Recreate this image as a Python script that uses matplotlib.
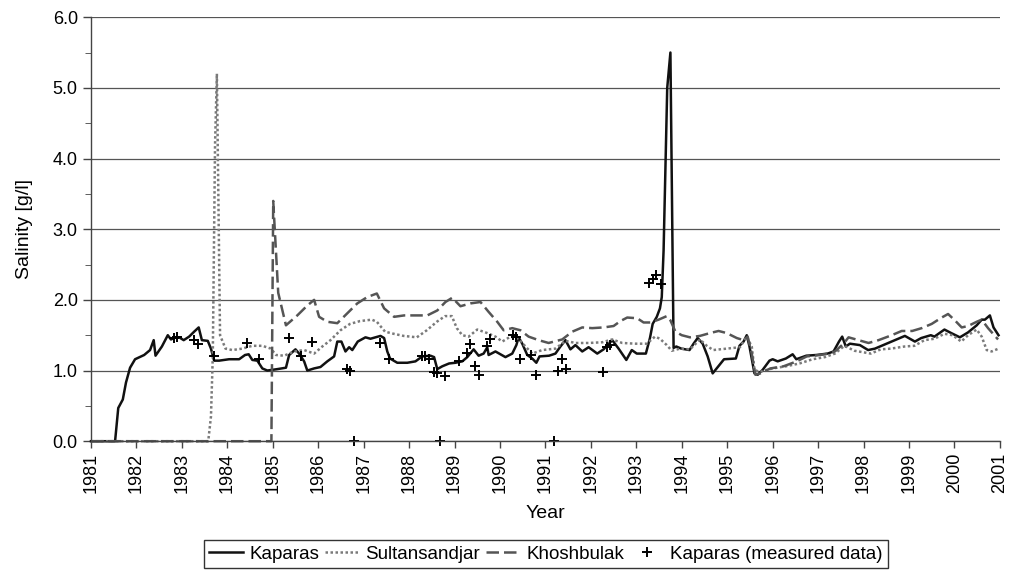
import numpy as np
import matplotlib.pyplot as plt
from matplotlib.ticker import MultipleLocator

plt.rcParams['font.family'] = ['Liberation Sans', 'DejaVu Sans']

# Kaparas (simulated)
kap_t = [1981.0, 1981.53, 1981.6, 1981.7, 1981.77, 1981.86, 1981.97, 1982.17, 1982.3, 1982.38,
         1982.42, 1982.56, 1982.69, 1982.76, 1982.86, 1982.94, 1983.04, 1983.16, 1983.27, 1983.37,
         1983.44, 1983.57, 1983.64, 1983.71, 1983.82, 1984.04, 1984.26, 1984.39, 1984.47, 1984.55,
         1984.66, 1984.77, 1984.88, 1985.1, 1985.29, 1985.36, 1985.5, 1985.58, 1985.65, 1985.69,
         1985.76, 1985.91, 1986.05, 1986.2, 1986.35, 1986.42, 1986.51, 1986.6, 1986.68, 1986.75,
         1986.87, 1987.04, 1987.15, 1987.26, 1987.37, 1987.45, 1987.52, 1987.58, 1987.74, 1987.96,
         1988.14, 1988.29, 1988.47, 1988.55, 1988.62, 1988.73, 1988.88, 1989.02, 1989.17, 1989.28,
         1989.42, 1989.53, 1989.64, 1989.72, 1989.75, 1989.9, 1990.12, 1990.27, 1990.36, 1990.41,
         1990.49, 1990.6, 1990.71, 1990.8, 1990.87, 1991.08, 1991.22, 1991.33, 1991.44, 1991.55,
         1991.66, 1991.81, 1991.95, 1992.14, 1992.28, 1992.47, 1992.61, 1992.78, 1992.9, 1993.01,
         1993.21, 1993.3, 1993.36, 1993.45, 1993.52, 1993.56, 1993.6, 1993.68, 1993.75, 1993.82,
         1993.88, 1993.99, 1994.17, 1994.26, 1994.35, 1994.46, 1994.57, 1994.68, 1994.83, 1994.93,
         1995.19, 1995.27, 1995.36, 1995.43, 1995.49, 1995.6, 1995.67, 1995.78, 1995.93, 1996.0,
         1996.11, 1996.29, 1996.44, 1996.52, 1996.74, 1996.96, 1997.21, 1997.34, 1997.46, 1997.53,
         1997.61, 1997.7, 1997.92, 1998.1, 1998.25, 1998.47, 1998.69, 1998.91, 1999.13, 1999.27,
         1999.48, 1999.56, 1999.78, 1999.93, 2000.12, 2000.3, 2000.49, 2000.6, 2000.67, 2000.78,
         2000.86, 2000.97]
kap_v = [0, 0, 0.47, 0.59, 0.83, 1.04, 1.16, 1.22, 1.29, 1.43,
         1.21, 1.34, 1.50, 1.44, 1.47, 1.47, 1.43, 1.48, 1.55, 1.61,
         1.43, 1.42, 1.31, 1.14, 1.14, 1.16, 1.16, 1.22, 1.23, 1.15,
         1.14, 1.03, 1.0, 1.02, 1.04, 1.22, 1.30, 1.24, 1.17, 1.13,
         1.0, 1.03, 1.05, 1.13, 1.2, 1.41, 1.41, 1.27, 1.33, 1.29,
         1.41, 1.47, 1.45, 1.47, 1.49, 1.46, 1.27, 1.17, 1.11, 1.11,
         1.13, 1.2, 1.21, 1.19, 1.02, 1.06, 1.1, 1.11, 1.13, 1.19,
         1.30, 1.21, 1.24, 1.33, 1.22, 1.27, 1.19, 1.24, 1.36, 1.47,
         1.38, 1.22, 1.17, 1.11, 1.2, 1.21, 1.24, 1.34, 1.43, 1.30,
         1.36, 1.27, 1.33, 1.24, 1.30, 1.43, 1.31, 1.15, 1.29, 1.24,
         1.24, 1.46, 1.66, 1.76, 1.88, 2.04, 2.7, 5.0, 5.5, 1.32,
         1.34, 1.31, 1.29, 1.38, 1.46, 1.38, 1.2, 0.96, 1.08, 1.16,
         1.17, 1.35, 1.41, 1.5, 1.34, 0.96, 0.94, 1.01, 1.14, 1.16,
         1.13, 1.17, 1.23, 1.16, 1.21, 1.22, 1.24, 1.27, 1.41, 1.48,
         1.34, 1.38, 1.36, 1.29, 1.31, 1.37, 1.43, 1.49, 1.41, 1.46,
         1.50, 1.48, 1.58, 1.53, 1.47, 1.54, 1.64, 1.72, 1.72, 1.78,
         1.61, 1.50]

# Sultansandjar
sul_t = [1981.0, 1983.58, 1983.64, 1983.68, 1983.73, 1983.77, 1983.84, 1983.96, 1984.11, 1984.33,
         1984.55, 1984.77, 1984.96, 1985.07, 1985.25, 1985.47, 1985.69, 1985.91, 1986.09, 1986.27,
         1986.49, 1986.7, 1986.92, 1987.18, 1987.29, 1987.47, 1987.66, 1987.88, 1988.17, 1988.39,
         1988.61, 1988.79, 1988.94, 1989.05, 1989.17, 1989.31, 1989.5, 1989.72, 1989.9, 1990.05,
         1990.23, 1990.41, 1990.56, 1990.71, 1990.93, 1991.22, 1991.44, 1991.66, 1991.95, 1992.25,
         1992.47, 1992.69, 1992.98, 1993.23, 1993.41, 1993.52, 1993.67, 1993.78, 1993.96, 1994.18,
         1994.4, 1994.55, 1994.69, 1994.99, 1995.28, 1995.43, 1995.54, 1995.6, 1995.71, 1996.0,
         1996.29, 1996.59, 1996.88, 1997.15, 1997.37, 1997.58, 1997.8, 1998.16, 1998.38, 1998.6,
         1998.9, 1999.12, 1999.34, 1999.56, 1999.78, 1999.96, 2000.15, 2000.3, 2000.49, 2000.6,
         2000.71, 2000.82, 2000.97]
sul_v = [0, 0, 0.35, 1.2, 4.2, 5.2, 1.5, 1.31, 1.29, 1.31,
         1.35, 1.35, 1.31, 1.22, 1.21, 1.27, 1.29, 1.24, 1.34, 1.43,
         1.57, 1.66, 1.70, 1.72, 1.69, 1.55, 1.52, 1.49, 1.47, 1.57,
         1.69, 1.77, 1.77, 1.6, 1.5, 1.48, 1.58, 1.53, 1.48, 1.41,
         1.48, 1.45, 1.34, 1.24, 1.29, 1.31, 1.42, 1.39, 1.39, 1.40,
         1.44, 1.39, 1.38, 1.38, 1.48, 1.45, 1.36, 1.28, 1.31, 1.30,
         1.44, 1.35, 1.29, 1.31, 1.33, 1.48, 1.34, 1.01, 0.98, 1.03,
         1.06, 1.10, 1.16, 1.19, 1.24, 1.35, 1.28, 1.24, 1.30, 1.31,
         1.34, 1.35, 1.43, 1.45, 1.52, 1.50, 1.41, 1.50, 1.58, 1.48,
         1.29, 1.27, 1.31]

# Khoshbulak
kho_t = [1981.0, 1984.97, 1985.01, 1985.12, 1985.29, 1985.54, 1985.76, 1985.91, 1986.02, 1986.2,
         1986.42, 1986.64, 1986.86, 1987.08, 1987.29, 1987.45, 1987.67, 1987.89, 1988.18, 1988.4,
         1988.62, 1988.8, 1988.95, 1989.13, 1989.35, 1989.57, 1989.75, 1989.94, 1990.08, 1990.27,
         1990.45, 1990.63, 1990.85, 1991.07, 1991.37, 1991.59, 1991.81, 1992.03, 1992.28, 1992.5,
         1992.65, 1992.8, 1993.02, 1993.16, 1993.31, 1993.49, 1993.67, 1993.75, 1993.86, 1994.0,
         1994.18, 1994.4, 1994.62, 1994.81, 1994.99, 1995.21, 1995.36, 1995.45, 1995.54, 1995.62,
         1995.73, 1995.95, 1996.24, 1996.53, 1996.75, 1997.04, 1997.23, 1997.37, 1997.56, 1997.67,
         1997.89, 1998.11, 1998.33, 1998.62, 1998.84, 1999.07, 1999.28, 1999.5, 1999.72, 1999.86,
         2000.01, 2000.16, 2000.3, 2000.49, 2000.6, 2000.74, 2000.96]
kho_v = [0, 0, 3.4, 2.1, 1.64, 1.78, 1.92, 2.0, 1.76, 1.69,
         1.67, 1.81, 1.95, 2.04, 2.09, 1.88, 1.76, 1.78, 1.78, 1.78,
         1.85, 1.97, 2.03, 1.91, 1.95, 1.97, 1.83, 1.69, 1.57, 1.60,
         1.57, 1.48, 1.43, 1.39, 1.44, 1.55, 1.61, 1.60, 1.61, 1.63,
         1.70, 1.75, 1.74, 1.68, 1.68, 1.72, 1.77, 1.71, 1.55, 1.50,
         1.47, 1.49, 1.53, 1.56, 1.53, 1.46, 1.43, 1.48, 1.24, 0.94,
         0.96, 1.03, 1.06, 1.13, 1.20, 1.22, 1.24, 1.27, 1.38, 1.47,
         1.43, 1.39, 1.43, 1.50, 1.56, 1.56, 1.60, 1.66, 1.75, 1.80,
         1.71, 1.61, 1.63, 1.69, 1.72, 1.60, 1.44]

# Kaparas measured
meas_t = [1982.82, 1982.89, 1983.27, 1983.36, 1983.70, 1984.44, 1984.70, 1985.36, 1985.62, 1985.86,
          1986.64, 1986.71, 1986.79, 1987.37, 1987.56, 1988.29, 1988.36, 1988.44, 1988.55, 1988.62,
          1988.69, 1988.78, 1989.10, 1989.28, 1989.35, 1989.45, 1989.53, 1989.72, 1989.78, 1990.28,
          1990.36, 1990.43, 1990.68, 1990.79, 1991.18, 1991.28, 1991.37, 1991.45, 1992.27, 1992.35,
          1992.41, 1993.27, 1993.37, 1993.44, 1993.54]
meas_v = [1.46, 1.48, 1.43, 1.38, 1.21, 1.39, 1.16, 1.46, 1.20, 1.41,
          1.02, 1.00, 0.0, 1.39, 1.16, 1.20, 1.21, 1.17, 0.98, 0.96,
          0.0, 0.92, 1.14, 1.25, 1.37, 1.06, 0.94, 1.35, 1.45, 1.50,
          1.48, 1.16, 1.22, 0.94, 0.0, 0.99, 1.16, 1.02, 0.98, 1.33,
          1.36, 2.24, 2.29, 2.35, 2.23]

years = list(range(1981, 2002))

fig = plt.figure(figsize=(10.11, 5.73), dpi=100)
ax = fig.add_axes([0.09, 0.23, 0.899, 0.74])

# gridlines
ax.grid(axis='y', color='#555555', linewidth=0.9)
ax.set_axisbelow(True)

ax.plot(kap_t, kap_v, color='#111111', lw=1.8, label='Kaparas', clip_on=False)
ax.plot(sul_t, sul_v, color='#7a7a7a', lw=1.8, linestyle=(0, (1, 1)),
        label='Sultansandjar', clip_on=False)
ax.plot(kho_t, kho_v, color='#555555', lw=1.8, linestyle=(0, (5, 2)),
        label='Khoshbulak', clip_on=False)
ax.plot(meas_t, meas_v, '+', color='black', markersize=7, markeredgewidth=1.4,
        label='Kaparas (measured data)', clip_on=False)

ax.set_xlim(1981, 2001)
ax.set_ylim(0, 6)
ax.set_xticks(years)
ax.set_xticklabels([str(y) for y in years], rotation=90)
ax.yaxis.set_major_locator(MultipleLocator(1))
ax.yaxis.set_minor_locator(MultipleLocator(0.5))
ax.set_yticklabels(['%.1f' % v for v in ax.get_yticks()])
ax.tick_params(axis='both', direction='out', labelsize=13, color='#444444', width=1)
ax.tick_params(axis='y', which='major', length=6)
ax.tick_params(axis='y', which='minor', length=4, color='#444444')
ax.tick_params(axis='x', length=5)

for side in ['top', 'right']:
    ax.spines[side].set_visible(False)
for side in ['left', 'bottom']:
    ax.spines[side].set_color('#444444')
    ax.spines[side].set_linewidth(1)

ax.set_xlabel('Year', fontsize=14, labelpad=8)
ax.set_ylabel('Salinity [g/l]', fontsize=14, labelpad=14)

leg = fig.legend(loc='lower center', bbox_to_anchor=(0.54, 0.008), ncol=4, fontsize=13.5,
                 frameon=True, fancybox=False, edgecolor='black', handlelength=1.8,
                 columnspacing=0.3, handletextpad=0.35, borderpad=0.3, borderaxespad=0)
leg.get_frame().set_linewidth(1)

fig.savefig('out.png', dpi=100)
